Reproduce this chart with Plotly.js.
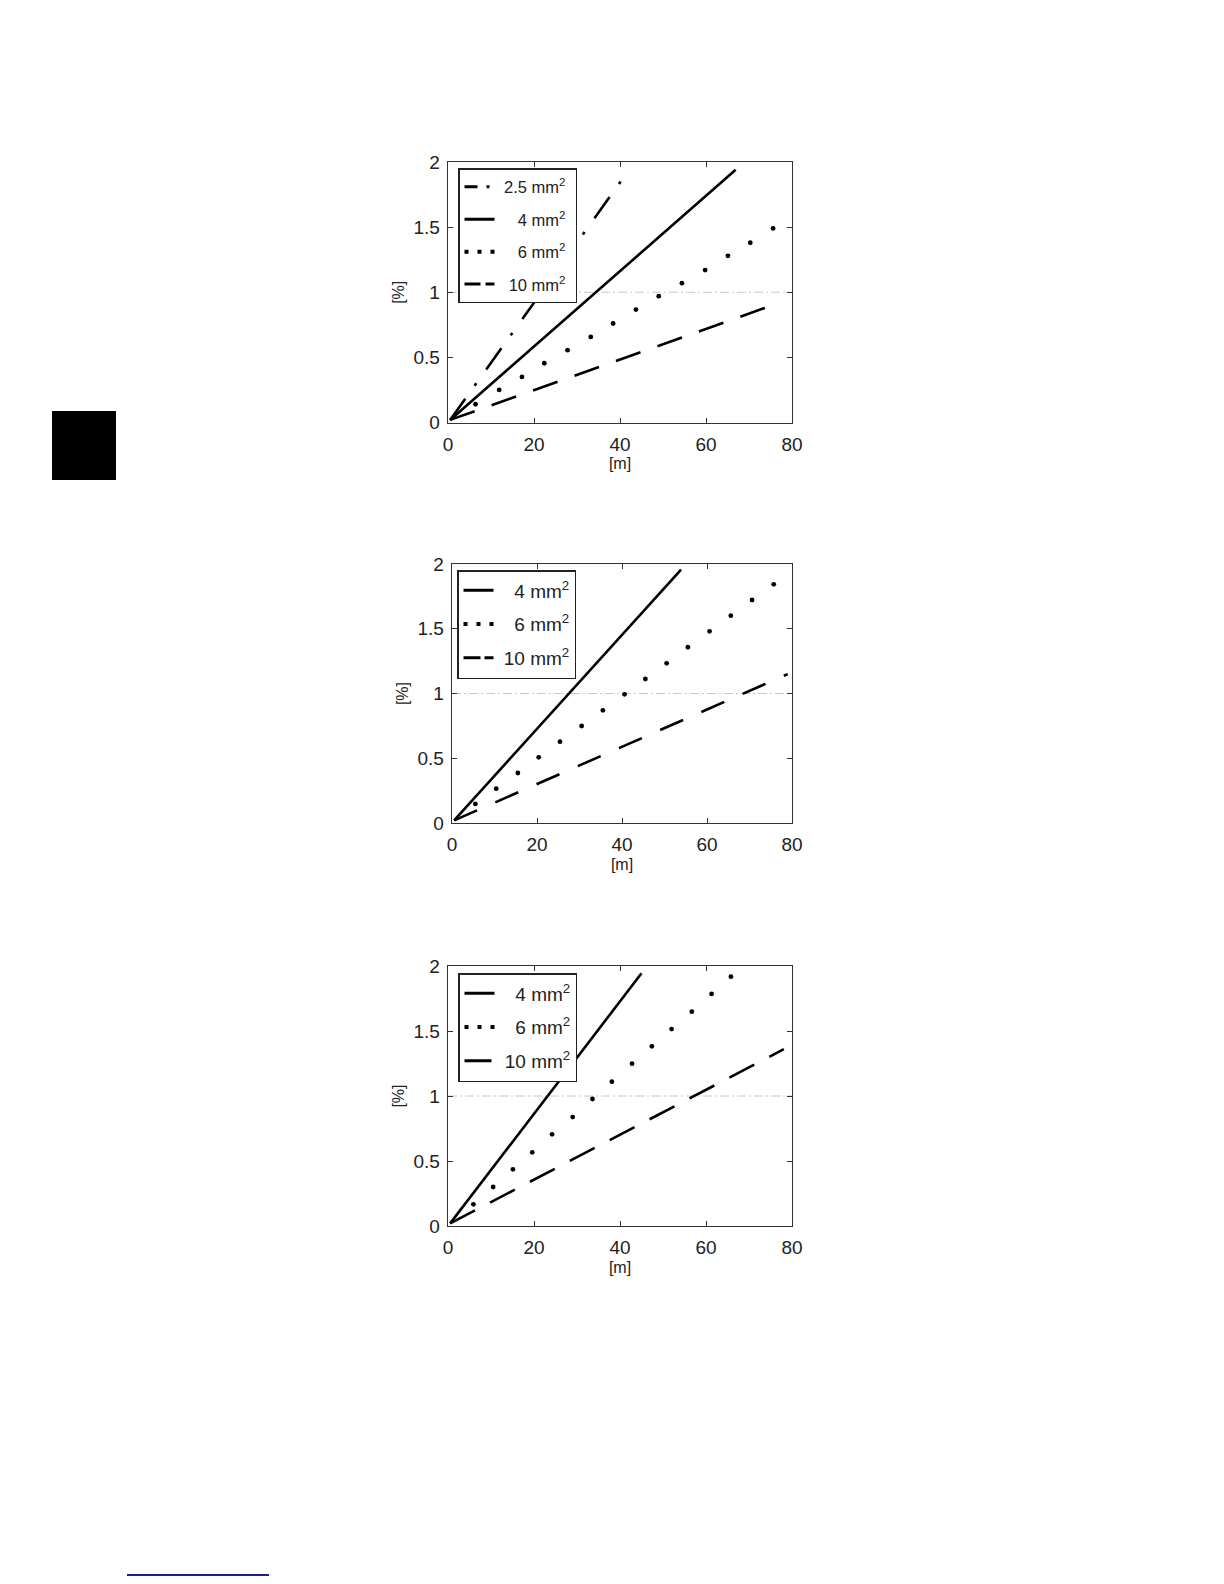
<!DOCTYPE html>
<html><head><meta charset="utf-8">
<script src="https://cdn.plot.ly/plotly-3.0.1.min.js"></script>
<style>html,body{margin:0;padding:0;background:#fff}</style>
</head><body><div id="chart" style="width:1224px;height:1584px"></div>
<script>
// ---- data ----
const xTickVals = [0, 20, 40, 60, 80];
const yTickVals = [0, 0.5, 1, 1.5, 2];
const yTickText = ['0', '0.5', '1', '1.5', '2'];
const limitX = [0, 80];
const limitY = [1, 1];

// chart 1
const a25x = [0.5, 40.6];
const a25y = [0.02, 1.87];
const a4x = [0.5, 66.9];
const a4y = [0.02, 1.94];
const a6x = [6.4, 11.9, 17.2, 22.4, 27.8, 33.2, 38.4, 43.7, 49.0, 54.4, 59.8, 65.1, 70.3, 75.6];
const a6y = [0.14, 0.25, 0.35, 0.455, 0.555, 0.657, 0.76, 0.867, 0.97, 1.07, 1.17, 1.28, 1.38, 1.49];
const a10x = [0.5, 75.0];
const a10y = [0.02, 0.895];

// chart 2
const b4x = [0.5, 53.9];
const b4y = [0.02, 1.956];
const b6x = [5.5, 10.4, 15.5, 20.4, 25.4, 30.5, 35.5, 40.6, 45.5, 50.5, 55.5, 60.6, 65.6, 70.6, 75.7];
const b6y = [0.147, 0.265, 0.386, 0.507, 0.628, 0.749, 0.87, 0.994, 1.112, 1.233, 1.357, 1.48, 1.601, 1.722, 1.843];
const b10x = [0.5, 79.0];
const b10y = [0.02, 1.15];

// chart 3
const c4x = [0.5, 45.0];
const c4y = [0.02, 1.944];
const c6x = [5.9, 10.5, 15.1, 19.6, 24.2, 29.0, 33.6, 38.1, 42.8, 47.4, 52.0, 56.7, 61.3, 65.8];
const c6y = [0.167, 0.30, 0.436, 0.567, 0.705, 0.838, 0.977, 1.11, 1.249, 1.382, 1.515, 1.649, 1.785, 1.918];
const c10x = [0.5, 78.1];
const c10y = [0.02, 1.36];

const names = ['2.5 mm<sup>2</sup>', '4 mm<sup>2</sup>', '6 mm<sup>2</sup>', '10 mm<sup>2</sup>'];

// ---- helpers ----
const W = 1224, H = 1584;
const FONT = 'Liberation Sans, Arial, Helvetica, sans-serif';
const px = v => v / W;
const py = v => 1 - v / H;

function lineTrace(x, y, ax, dash, width) {
  return {x: x, y: y, xaxis: 'x' + ax, yaxis: 'y' + ax, mode: 'lines', showlegend: false,
    hoverinfo: 'skip', line: {color: '#000', width: width || 2.6, dash: dash || 'solid'}};
}
function dotTrace(x, y, ax) {
  return {x: x, y: y, xaxis: 'x' + ax, yaxis: 'y' + ax, mode: 'markers', showlegend: false,
    hoverinfo: 'skip', marker: {color: '#000', size: 4.8}};
}
function refTrace(ax) {
  return {x: limitX, y: limitY, xaxis: 'x' + ax, yaxis: 'y' + ax, mode: 'lines', showlegend: false,
    hoverinfo: 'skip', line: {color: '#c8c8c8', width: 1, dash: '9px,3px,2px,3px'}};
}
function legTrace(name, ax, leg, dash, grp, w) {
  return {x: [null], y: [null], xaxis: 'x' + ax, yaxis: 'y' + ax, mode: 'lines', name: name,
    legend: leg, legendgroup: grp, hoverinfo: 'skip', line: {color: '#000', width: w || 3, dash: dash}};
}

const sp = '\u00a0';
const data = [
  refTrace(''), refTrace('2'), refTrace('3'),
  // chart 1
  lineTrace(a25x, a25y, '', '26px,16px,3px,17px'),
  lineTrace(a4x, a4y, ''),
  dotTrace(a6x, a6y, ''),
  lineTrace(a10x, a10y, '', '26px,18px'),
  // chart 2
  lineTrace(b4x, b4y, '2'),
  dotTrace(b6x, b6y, '2'),
  lineTrace(b10x, b10y, '2', '25px,20px'),
  // chart 3
  lineTrace(c4x, c4y, '3'),
  dotTrace(c6x, c6y, '3'),
  lineTrace(c10x, c10y, '3', '28px,17px'),
  // legend entries
  legTrace(sp + names[0] + sp, '', 'legend', '13px,9px,3px,20px', 'a1'),
  legTrace(sp + sp + sp + sp + names[1] + sp, '', 'legend', 'solid', 'a2'),
  legTrace(sp + sp + sp + sp + names[2] + sp, '', 'legend', '4px,9px', 'a3', 4),
  legTrace(sp + sp + names[3] + sp, '', 'legend', '16px,5px', 'a4'),
  legTrace(sp + sp + sp + names[1], '2', 'legend2', 'solid', 'b2'),
  legTrace(sp + sp + sp + names[2], '2', 'legend2', '4px,9px', 'b3', 4),
  legTrace(sp + names[3], '2', 'legend2', '17px,4px', 'b4'),
  legTrace(sp + sp + sp + names[1], '3', 'legend3', 'solid', 'c2'),
  legTrace(sp + sp + sp + names[2], '3', 'legend3', '4px,9px', 'c3', 4),
  legTrace(sp + names[3], '3', 'legend3', '27px,10px', 'c4')
];

function xAxis(l, r, anchor) {
  return {domain: [px(l), px(r)], anchor: anchor, range: limitX, tickvals: xTickVals,
    ticktext: xTickVals.map(String), ticks: 'inside', ticklen: 5, tickcolor: '#333', tickwidth: 1,
    showline: true, linecolor: '#333', linewidth: 1.4, mirror: 'ticks', showgrid: false, zeroline: false,
    tickfont: {size: 19, color: '#222', family: FONT}, ticklabelstandoff: 4, automargin: false,
    title: {text: '[m]', font: {size: 16, color: '#222', family: FONT}, standoff: 4}, fixedrange: true};
}
function yAxis(t, b, anchor) {
  return {domain: [py(b), py(t)], anchor: anchor, range: [0, 2], tickvals: yTickVals, ticktext: yTickText,
    ticks: 'inside', ticklen: 5, tickcolor: '#333', tickwidth: 1,
    showline: true, linecolor: '#333', linewidth: 1.4, mirror: 'ticks', showgrid: false, zeroline: false,
    tickfont: {size: 19, color: '#222', family: FONT}, ticklabelstandoff: 3, automargin: false,
    title: {text: '[%]', font: {size: 16, color: '#222', family: FONT}, standoff: 4}, fixedrange: true};
}
function legend(l, t, size, gap) {
  return {x: px(l), y: py(t), xanchor: 'left', yanchor: 'top', bgcolor: '#fff', bordercolor: '#222',
    borderwidth: 1.5, font: {size: size, color: '#222', family: FONT}, traceorder: 'grouped',
    tracegroupgap: gap, itemclick: false, itemdoubleclick: false};
}

const layout = {
  width: W, height: H, margin: {l: 0, r: 0, t: 0, b: 0}, paper_bgcolor: '#fff', plot_bgcolor: '#fff',
  font: {family: FONT, color: '#222'},
  showlegend: true,
  xaxis: xAxis(448, 792, 'y'), yaxis: yAxis(162, 422.5, 'x'),
  xaxis2: xAxis(452, 792, 'y2'), yaxis2: yAxis(564, 823, 'x2'),
  xaxis3: xAxis(448, 792, 'y3'), yaxis3: yAxis(966, 1226, 'x3'),
  legend: legend(458, 168, 16.5, 8),
  legend2: legend(457, 570, 19, 6),
  legend3: legend(458, 973, 19, 6),
  shapes: [
    {type: 'rect', xref: 'paper', yref: 'paper', x0: px(52), x1: px(116), y0: py(480), y1: py(411),
      fillcolor: '#000', line: {width: 0}},
    {type: 'line', xref: 'paper', yref: 'paper', x0: px(127), x1: px(269), y0: py(1575), y1: py(1575),
      line: {color: '#1c1c8c', width: 2}}
  ]
};

Plotly.newPlot('chart', data, layout, {staticPlot: true, displayModeBar: false});
</script>
</body></html>
